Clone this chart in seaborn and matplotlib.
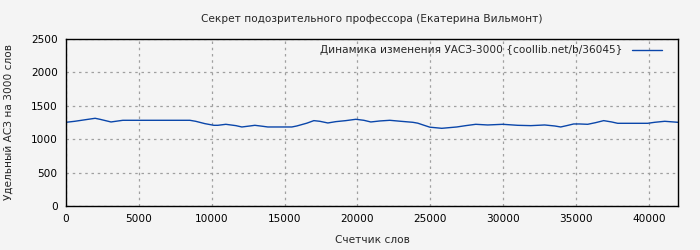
import matplotlib
matplotlib.use("Agg")
import matplotlib.pyplot as plt
import seaborn as sns
import pandas as pd

words = [0, 600, 1370, 2000, 2330, 3090, 3900, 8500, 8900, 9530, 10150,
         10420, 10970, 11660, 12070, 12620, 12960, 13510, 13850, 15500, 15840,
         16530, 17010, 17420, 17970, 18520, 19200, 19890, 20440, 20920, 21540,
         22220, 22980, 23800, 24140, 24550, 24970, 25790, 26820, 27430, 28120,
         28940, 29970, 31000, 31900, 32850, 33540, 33950, 34360, 34840, 35250,
         35800, 36350, 36900, 37450, 37860, 39920, 40400, 41090, 42000]
uasz = [1253, 1268, 1293, 1313, 1298, 1258, 1283, 1283, 1268, 1233, 1208,
        1208, 1223, 1203, 1183, 1198, 1208, 1193, 1183, 1183, 1198,
        1240, 1278, 1268, 1243, 1263, 1278, 1298, 1283, 1258, 1273,
        1283, 1268, 1253, 1240, 1210, 1180, 1163, 1183, 1203, 1223,
        1213, 1223, 1208, 1203, 1213, 1198, 1183, 1203, 1228, 1228,
        1223, 1248, 1278, 1258, 1238, 1238, 1253, 1268, 1253]

title = "Секрет подозрительного профессора (Екатерина Вильмонт)"
series_label = "Динамика изменения УАСЗ-3000 {coollib.net/b/36045}"
xlabel = "Счетчик слов"
ylabel = "Удельный АСЗ на 3000 слов"

df = pd.DataFrame({"x": words, "y": uasz})

sns.set_style("white")
plt.rcParams['font.family'] = ['DejaVu Sans']
plt.rcParams['figure.facecolor'] = '#f4f4f4'
plt.rcParams['axes.facecolor'] = '#f4f4f4'

fs = 7.6
fig = plt.figure(figsize=(7, 2.5), dpi=100)
ax = fig.add_axes([66/700, 1-206/250, (678-66)/700, (206-39)/250])

sns.lineplot(data=df, x="x", y="y", ax=ax, color="#0a46aa", linewidth=1.0,
             label=series_label)

ax.set_xlim(0, 42000)
ax.set_ylim(0, 2500)
ax.set_xticks(range(0, 42000, 5000))
ax.set_yticks(range(0, 2501, 500))
ax.grid(True, color="#a0a0a0", linestyle=(0, (2, 3)), linewidth=0.9)
for s in ax.spines.values():
    s.set_color("black")
    s.set_linewidth(1.0)
ax.tick_params(direction="in", length=4, width=1, labelsize=fs, colors="black", pad=6)
ax.set_xlabel(xlabel, fontsize=fs, labelpad=8)
ax.set_ylabel(ylabel, fontsize=fs, labelpad=12)
fig.text((66 + 678) / 2 / 700, 1-19/250, title, ha="center", va="center", fontsize=fs)
leg = ax.legend(loc="upper right", frameon=False, markerfirst=False, fontsize=fs,
                handlelength=2.8, borderaxespad=0.2, handletextpad=0.9,
                bbox_to_anchor=(1 - 10/612, 1))
fig.savefig("out.png", dpi=100, facecolor=fig.get_facecolor())
